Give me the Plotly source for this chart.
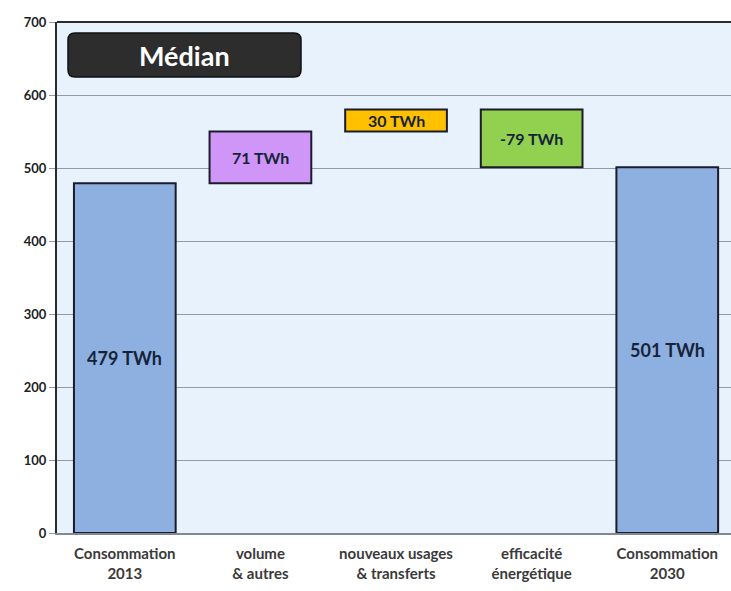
import plotly.graph_objects as go

categories = ["Consommation<br>2013", "volume<br>& autres", "nouveaux usages<br>& transferts",
              "efficacité<br>énergétique", "Consommation<br>2030"]
bases = [0, 479, 550, 501, 0]
heights = [479, 71, 30, 79, 501]
labels = ["479 TWh", "71 TWh", "30 TWh", "-79 TWh", "501 TWh"]
colors = ["#8DB0E0", "#CF96F7", "#FFC000", "#92D050", "#8DB0E0"]
label_sizes = [18, 16, 16, 16, 18]
yticks = [0, 100, 200, 300, 400, 500, 600, 700]

FONT = "Lato, Liberation Sans, sans-serif"

fig = go.Figure()
fig.add_trace(go.Bar(
    x=list(range(len(categories))), y=heights, base=bases,
    marker=dict(color=colors, line=dict(color="#1b1b2b", width=2)),
    width=0.75, cliponaxis=False, hoverinfo="skip",
))

for i, (b, h, t, s) in enumerate(zip(bases, heights, labels, label_sizes)):
    fig.add_annotation(x=i, y=b + h / 2, text=t, showarrow=False,
                       xanchor="center", yanchor="middle",
                       font=dict(family=FONT, size=s, color="#15233a", weight="bold"))

L, T, B = 57, 22, 58
W, H = 731, 591
plot_h = H - T - B

fig.update_layout(
    width=W, height=H,
    margin=dict(l=L, r=0, t=T, b=B),
    paper_bgcolor="white", plot_bgcolor="#E7F2FC",
    showlegend=False, bargap=0.25,
    font=dict(family=FONT),
    xaxis=dict(
        range=[-0.5, 4.47], tickmode="array", tickvals=list(range(len(categories))),
        ticktext=categories, showgrid=False, zeroline=False,
        showline=True, linecolor="#7f8a95", linewidth=2,
        tickfont=dict(family=FONT, size=15, color="#3a3a3a", weight="bold"),
        ticks="", ticklabelstandoff=6,
    ),
    yaxis=dict(
        range=[0, 700], tickmode="array", tickvals=yticks,
        showgrid=True, gridcolor="#8f9ba6", gridwidth=1,
        zeroline=False, showline=True, linecolor="#2b2b2b", linewidth=2,
        ticks="outside", ticklen=6, tickcolor="#8f9ba6",
        tickfont=dict(family=FONT, size=13, color="#222222", weight="bold"),
    ),
)

# top border of plot area
fig.add_shape(type="line", xref="paper", yref="paper", x0=0, x1=1, y0=1, y1=1,
              line=dict(color="#2b2b2b", width=2))

# rounded "Médian" box
def px2paper(px, py):
    return (px - L) / (W - L), (H - B - py) / plot_h

x0, y0 = px2paper(68, 77)
x1, y1 = px2paper(301, 33)
r = 7
rx = r / (W - L)
ry = r / plot_h
path = (f"M {x0+rx},{y0} L {x1-rx},{y0} Q {x1},{y0} {x1},{y0+ry} "
        f"L {x1},{y1-ry} Q {x1},{y1} {x1-rx},{y1} L {x0+rx},{y1} "
        f"Q {x0},{y1} {x0},{y1-ry} L {x0},{y0+ry} Q {x0},{y0} {x0+rx},{y0} Z")
fig.add_shape(type="path", xref="paper", yref="paper", path=path,
              fillcolor="#2d2d2d", line=dict(color="#111111", width=1.5))
fig.add_annotation(xref="paper", yref="paper", x=(x0 + x1) / 2, y=(y0 + y1) / 2,
                   xanchor="center", yanchor="middle",
                   text="Médian", showarrow=False,
                   font=dict(family=FONT, size=27, color="white", weight="bold"))

fig.write_html("out.html")
